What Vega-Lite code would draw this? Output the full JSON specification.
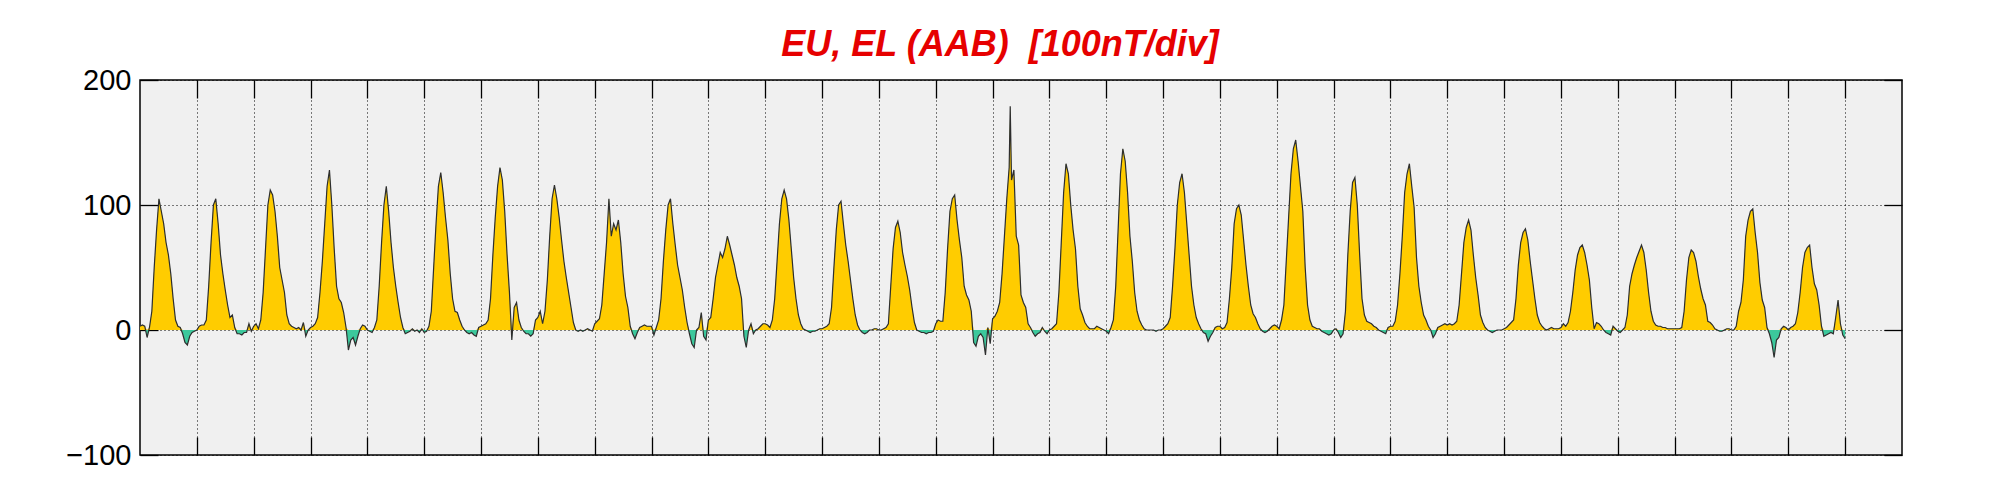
{
"$schema": "https://vega.github.io/schema/vega-lite/v6.json",
"width": 1762, "height": 375,
"autosize": {"type": "none"},
"padding": {"left": 140, "top": 80, "right": 99, "bottom": 45},
"background": "white",
"title": {"text": "EU, EL (AAB) \u00a0[100nT/div]", "color": "#e60000", "font": "Liberation Sans", "fontSize": 36, "fontStyle": "italic", "fontWeight": "bold", "anchor": "middle", "frame": "group", "offset": 2, "dx": -21},
"config": {
  "view": {"fill": "#f0f0f0", "stroke": "#000", "strokeWidth": 1.5},
  "axis": {"domain": false, "gridColor": "#000", "gridOpacity": 1, "gridDash": [1, 3], "gridWidth": 1, "tickColor": "#000", "tickWidth": 1.3, "tickSize": -18, "labelFont": "Liberation Sans", "labelFontSize": 29, "labelColor": "#000", "title": null}
},
"data": {"values": [
{"t":0,"v":3},{"t":1,"v":4},{"t":2,"v":3},{"t":3,"v":-6},{"t":4,"v":2},{"t":5,"v":15},{"t":6,"v":50},{"t":7,"v":80},{"t":8,"v":105},{"t":9,"v":95},{"t":10,"v":85},{"t":11,"v":70},{"t":12,"v":60},{"t":13,"v":45},{"t":14,"v":25},{"t":15,"v":8},{"t":16,"v":3},{"t":17,"v":2},{"t":18,"v":-3},{"t":19,"v":-10},{"t":20,"v":-12},{"t":21,"v":-5},{"t":22,"v":-2},{"t":23,"v":-1},
{"t":24,"v":0},{"t":25,"v":3},{"t":26,"v":4},{"t":27,"v":4},{"t":28,"v":8},{"t":29,"v":35},{"t":30,"v":70},{"t":31,"v":100},{"t":32,"v":105},{"t":33,"v":85},{"t":34,"v":60},{"t":35,"v":45},{"t":36,"v":32},{"t":37,"v":20},{"t":38,"v":10},{"t":39,"v":12},{"t":40,"v":2},{"t":41,"v":-3},{"t":42,"v":-3},{"t":43,"v":-4},{"t":44,"v":-2},{"t":45,"v":-2},{"t":46,"v":5},{"t":47,"v":-1},
{"t":48,"v":3},{"t":49,"v":5},{"t":50,"v":1},{"t":51,"v":8},{"t":52,"v":30},{"t":53,"v":65},{"t":54,"v":100},{"t":55,"v":112},{"t":56,"v":108},{"t":57,"v":95},{"t":58,"v":75},{"t":59,"v":50},{"t":60,"v":40},{"t":61,"v":30},{"t":62,"v":12},{"t":63,"v":5},{"t":64,"v":3},{"t":65,"v":2},{"t":66,"v":1},{"t":67,"v":2},{"t":68,"v":0},{"t":69,"v":6},{"t":70,"v":-5},{"t":71,"v":0},
{"t":72,"v":2},{"t":73,"v":3},{"t":74,"v":5},{"t":75,"v":10},{"t":76,"v":30},{"t":77,"v":55},{"t":78,"v":85},{"t":79,"v":115},{"t":80,"v":128},{"t":81,"v":100},{"t":82,"v":65},{"t":83,"v":35},{"t":84,"v":25},{"t":85,"v":22},{"t":86,"v":14},{"t":87,"v":2},{"t":88,"v":-16},{"t":89,"v":-8},{"t":90,"v":-6},{"t":91,"v":-12},{"t":92,"v":-5},{"t":93,"v":1},{"t":94,"v":4},{"t":95,"v":3},
{"t":96,"v":0},{"t":97,"v":-1},{"t":98,"v":-2},{"t":99,"v":2},{"t":100,"v":8},{"t":101,"v":35},{"t":102,"v":70},{"t":103,"v":100},{"t":104,"v":115},{"t":105,"v":95},{"t":106,"v":70},{"t":107,"v":50},{"t":108,"v":35},{"t":109,"v":22},{"t":110,"v":10},{"t":111,"v":2},{"t":112,"v":-3},{"t":113,"v":-2},{"t":114,"v":-1},{"t":115,"v":1},{"t":116,"v":-1},{"t":117,"v":0},{"t":118,"v":-2},{"t":119,"v":1},
{"t":120,"v":-2},{"t":121,"v":-1},{"t":122,"v":3},{"t":123,"v":15},{"t":124,"v":50},{"t":125,"v":85},{"t":126,"v":115},{"t":127,"v":126},{"t":128,"v":110},{"t":129,"v":90},{"t":130,"v":72},{"t":131,"v":45},{"t":132,"v":25},{"t":133,"v":15},{"t":134,"v":14},{"t":135,"v":8},{"t":136,"v":3},{"t":137,"v":0},{"t":138,"v":-2},{"t":139,"v":-3},{"t":140,"v":-2},{"t":141,"v":-4},{"t":142,"v":-5},{"t":143,"v":2},
{"t":144,"v":3},{"t":145,"v":4},{"t":146,"v":5},{"t":147,"v":8},{"t":148,"v":25},{"t":149,"v":60},{"t":150,"v":90},{"t":151,"v":115},{"t":152,"v":130},{"t":153,"v":120},{"t":154,"v":95},{"t":155,"v":60},{"t":156,"v":30},{"t":157,"v":-8},{"t":158,"v":18},{"t":159,"v":22},{"t":160,"v":8},{"t":161,"v":2},{"t":162,"v":-1},{"t":163,"v":-3},{"t":164,"v":-3},{"t":165,"v":-5},{"t":166,"v":-3},{"t":167,"v":8},
{"t":168,"v":10},{"t":169,"v":15},{"t":170,"v":5},{"t":171,"v":15},{"t":172,"v":40},{"t":173,"v":75},{"t":174,"v":105},{"t":175,"v":116},{"t":176,"v":105},{"t":177,"v":90},{"t":178,"v":72},{"t":179,"v":55},{"t":180,"v":42},{"t":181,"v":30},{"t":182,"v":18},{"t":183,"v":6},{"t":184,"v":0},{"t":185,"v":-1},{"t":186,"v":0},{"t":187,"v":-1},{"t":188,"v":0},{"t":189,"v":1},{"t":190,"v":0},{"t":191,"v":-1},
{"t":192,"v":5},{"t":193,"v":7},{"t":194,"v":9},{"t":195,"v":20},{"t":196,"v":45},{"t":197,"v":70},{"t":198,"v":105},{"t":199,"v":75},{"t":200,"v":85},{"t":201,"v":80},{"t":202,"v":88},{"t":203,"v":70},{"t":204,"v":45},{"t":205,"v":27},{"t":206,"v":18},{"t":207,"v":3},{"t":208,"v":-3},{"t":209,"v":-7},{"t":210,"v":-2},{"t":211,"v":2},{"t":212,"v":3},{"t":213,"v":4},{"t":214,"v":3},{"t":215,"v":3},
{"t":216,"v":3},{"t":217,"v":-4},{"t":218,"v":2},{"t":219,"v":8},{"t":220,"v":25},{"t":221,"v":55},{"t":222,"v":80},{"t":223,"v":100},{"t":224,"v":105},{"t":225,"v":85},{"t":226,"v":68},{"t":227,"v":52},{"t":228,"v":42},{"t":229,"v":32},{"t":230,"v":18},{"t":231,"v":6},{"t":232,"v":-3},{"t":233,"v":-11},{"t":234,"v":-14},{"t":235,"v":0},{"t":236,"v":2},{"t":237,"v":14},{"t":238,"v":-5},{"t":239,"v":-8},
{"t":240,"v":8},{"t":241,"v":10},{"t":242,"v":25},{"t":243,"v":42},{"t":244,"v":52},{"t":245,"v":62},{"t":246,"v":58},{"t":247,"v":65},{"t":248,"v":75},{"t":249,"v":68},{"t":250,"v":60},{"t":251,"v":52},{"t":252,"v":42},{"t":253,"v":35},{"t":254,"v":25},{"t":255,"v":-5},{"t":256,"v":-14},{"t":257,"v":0},{"t":258,"v":5},{"t":259,"v":-3},{"t":260,"v":0},{"t":261,"v":1},{"t":262,"v":3},{"t":263,"v":5},
{"t":264,"v":5},{"t":265,"v":4},{"t":266,"v":2},{"t":267,"v":8},{"t":268,"v":25},{"t":269,"v":55},{"t":270,"v":85},{"t":271,"v":105},{"t":272,"v":112},{"t":273,"v":105},{"t":274,"v":88},{"t":275,"v":65},{"t":276,"v":42},{"t":277,"v":25},{"t":278,"v":12},{"t":279,"v":5},{"t":280,"v":1},{"t":281,"v":0},{"t":282,"v":-1},{"t":283,"v":-2},{"t":284,"v":-1},{"t":285,"v":-1},{"t":286,"v":0},{"t":287,"v":1},
{"t":288,"v":1},{"t":289,"v":2},{"t":290,"v":3},{"t":291,"v":5},{"t":292,"v":18},{"t":293,"v":50},{"t":294,"v":80},{"t":295,"v":100},{"t":296,"v":103},{"t":297,"v":85},{"t":298,"v":68},{"t":299,"v":55},{"t":300,"v":40},{"t":301,"v":25},{"t":302,"v":12},{"t":303,"v":4},{"t":304,"v":0},{"t":305,"v":-2},{"t":306,"v":-3},{"t":307,"v":-2},{"t":308,"v":0},{"t":309,"v":0},{"t":310,"v":1},{"t":311,"v":1},
{"t":312,"v":0},{"t":313,"v":0},{"t":314,"v":1},{"t":315,"v":2},{"t":316,"v":5},{"t":317,"v":35},{"t":318,"v":65},{"t":319,"v":82},{"t":320,"v":87},{"t":321,"v":78},{"t":322,"v":62},{"t":323,"v":52},{"t":324,"v":43},{"t":325,"v":32},{"t":326,"v":18},{"t":327,"v":6},{"t":328,"v":0},{"t":329,"v":-1},{"t":330,"v":-2},{"t":331,"v":-2},{"t":332,"v":-3},{"t":333,"v":-2},{"t":334,"v":-2},{"t":335,"v":-1},
{"t":336,"v":5},{"t":337,"v":8},{"t":338,"v":7},{"t":339,"v":7},{"t":340,"v":30},{"t":341,"v":65},{"t":342,"v":95},{"t":343,"v":105},{"t":344,"v":108},{"t":345,"v":88},{"t":346,"v":72},{"t":347,"v":58},{"t":348,"v":35},{"t":349,"v":28},{"t":350,"v":24},{"t":351,"v":15},{"t":352,"v":-10},{"t":353,"v":-13},{"t":354,"v":-5},{"t":355,"v":-3},{"t":356,"v":-6},{"t":357,"v":-20},{"t":358,"v":2},{"t":359,"v":-11},
{"t":360,"v":9},{"t":361,"v":11},{"t":362,"v":15},{"t":363,"v":22},{"t":364,"v":45},{"t":365,"v":75},{"t":366,"v":105},{"t":367,"v":130},{"t":367.45,"v":179},{"t":368,"v":120},{"t":369,"v":128},{"t":370,"v":75},{"t":371,"v":68},{"t":372,"v":28},{"t":373,"v":22},{"t":374,"v":18},{"t":375,"v":5},{"t":376,"v":2},{"t":377,"v":-2},{"t":378,"v":-5},{"t":379,"v":-3},{"t":380,"v":-2},{"t":381,"v":2},{"t":382,"v":-1},{"t":383,"v":-3},
{"t":384,"v":0},{"t":385,"v":1},{"t":386,"v":3},{"t":387,"v":5},{"t":388,"v":30},{"t":389,"v":70},{"t":390,"v":110},{"t":391,"v":133},{"t":392,"v":125},{"t":393,"v":100},{"t":394,"v":80},{"t":395,"v":65},{"t":396,"v":35},{"t":397,"v":17},{"t":398,"v":12},{"t":399,"v":6},{"t":400,"v":3},{"t":401,"v":1},{"t":402,"v":1},{"t":403,"v":1},{"t":404,"v":3},{"t":405,"v":2},{"t":406,"v":1},{"t":407,"v":0},
{"t":408,"v":-1},{"t":409,"v":-3},{"t":410,"v":2},{"t":411,"v":8},{"t":412,"v":35},{"t":413,"v":80},{"t":414,"v":125},{"t":415,"v":145},{"t":416,"v":135},{"t":417,"v":110},{"t":418,"v":75},{"t":419,"v":55},{"t":420,"v":30},{"t":421,"v":15},{"t":422,"v":8},{"t":423,"v":4},{"t":424,"v":1},{"t":425,"v":0},{"t":426,"v":0},{"t":427,"v":0},{"t":428,"v":0},{"t":429,"v":-1},{"t":430,"v":0},{"t":431,"v":0},
{"t":432,"v":1},{"t":433,"v":3},{"t":434,"v":5},{"t":435,"v":10},{"t":436,"v":35},{"t":437,"v":65},{"t":438,"v":100},{"t":439,"v":118},{"t":440,"v":125},{"t":441,"v":110},{"t":442,"v":85},{"t":443,"v":60},{"t":444,"v":35},{"t":445,"v":20},{"t":446,"v":10},{"t":447,"v":5},{"t":448,"v":1},{"t":449,"v":-2},{"t":450,"v":-3},{"t":451,"v":-9},{"t":452,"v":-5},{"t":453,"v":-2},{"t":454,"v":2},{"t":455,"v":3},
{"t":456,"v":3},{"t":457,"v":1},{"t":458,"v":2},{"t":459,"v":6},{"t":460,"v":25},{"t":461,"v":50},{"t":462,"v":85},{"t":463,"v":97},{"t":464,"v":100},{"t":465,"v":92},{"t":466,"v":72},{"t":467,"v":52},{"t":468,"v":35},{"t":469,"v":20},{"t":470,"v":13},{"t":471,"v":10},{"t":472,"v":5},{"t":473,"v":1},{"t":474,"v":-1},{"t":475,"v":-2},{"t":476,"v":-1},{"t":477,"v":1},{"t":478,"v":3},{"t":479,"v":4},
{"t":480,"v":3},{"t":481,"v":1},{"t":482,"v":8},{"t":483,"v":20},{"t":484,"v":55},{"t":485,"v":90},{"t":486,"v":125},{"t":487,"v":145},{"t":488,"v":152},{"t":489,"v":135},{"t":490,"v":115},{"t":491,"v":95},{"t":492,"v":50},{"t":493,"v":20},{"t":494,"v":8},{"t":495,"v":3},{"t":496,"v":2},{"t":497,"v":1},{"t":498,"v":1},{"t":499,"v":-1},{"t":500,"v":-2},{"t":501,"v":-3},{"t":502,"v":-4},{"t":503,"v":-3},
{"t":504,"v":0},{"t":505,"v":1},{"t":506,"v":-2},{"t":507,"v":-6},{"t":508,"v":-3},{"t":509,"v":15},{"t":510,"v":60},{"t":511,"v":95},{"t":512,"v":118},{"t":513,"v":122},{"t":514,"v":100},{"t":515,"v":60},{"t":516,"v":25},{"t":517,"v":12},{"t":518,"v":7},{"t":519,"v":6},{"t":520,"v":5},{"t":521,"v":3},{"t":522,"v":2},{"t":523,"v":0},{"t":524,"v":-1},{"t":525,"v":-2},{"t":526,"v":-3},{"t":527,"v":2},
{"t":528,"v":3},{"t":529,"v":3},{"t":530,"v":7},{"t":531,"v":20},{"t":532,"v":45},{"t":533,"v":75},{"t":534,"v":110},{"t":535,"v":125},{"t":536,"v":133},{"t":537,"v":115},{"t":538,"v":98},{"t":539,"v":58},{"t":540,"v":35},{"t":541,"v":22},{"t":542,"v":12},{"t":543,"v":8},{"t":544,"v":3},{"t":545,"v":0},{"t":546,"v":-6},{"t":547,"v":-3},{"t":548,"v":2},{"t":549,"v":3},{"t":550,"v":4},{"t":551,"v":5},
{"t":552,"v":4},{"t":553,"v":5},{"t":554,"v":4},{"t":555,"v":5},{"t":556,"v":7},{"t":557,"v":20},{"t":558,"v":45},{"t":559,"v":70},{"t":560,"v":82},{"t":561,"v":88},{"t":562,"v":80},{"t":563,"v":60},{"t":564,"v":42},{"t":565,"v":28},{"t":566,"v":12},{"t":567,"v":6},{"t":568,"v":2},{"t":569,"v":0},{"t":570,"v":-1},{"t":571,"v":-2},{"t":572,"v":-1},{"t":573,"v":0},{"t":574,"v":0},{"t":575,"v":0},
{"t":576,"v":1},{"t":577,"v":2},{"t":578,"v":4},{"t":579,"v":6},{"t":580,"v":8},{"t":581,"v":25},{"t":582,"v":52},{"t":583,"v":70},{"t":584,"v":78},{"t":585,"v":81},{"t":586,"v":72},{"t":587,"v":55},{"t":588,"v":40},{"t":589,"v":25},{"t":590,"v":12},{"t":591,"v":6},{"t":592,"v":3},{"t":593,"v":1},{"t":594,"v":0},{"t":595,"v":1},{"t":596,"v":2},{"t":597,"v":1},{"t":598,"v":1},{"t":599,"v":1},
{"t":600,"v":2},{"t":601,"v":5},{"t":602,"v":3},{"t":603,"v":6},{"t":604,"v":15},{"t":605,"v":30},{"t":606,"v":48},{"t":607,"v":60},{"t":608,"v":66},{"t":609,"v":68},{"t":610,"v":62},{"t":611,"v":52},{"t":612,"v":40},{"t":613,"v":18},{"t":614,"v":1},{"t":615,"v":6},{"t":616,"v":5},{"t":617,"v":3},{"t":618,"v":0},{"t":619,"v":-2},{"t":620,"v":-3},{"t":621,"v":-4},{"t":622,"v":3},{"t":623,"v":1},
{"t":624,"v":-1},{"t":625,"v":-2},{"t":626,"v":0},{"t":627,"v":2},{"t":628,"v":12},{"t":629,"v":35},{"t":630,"v":45},{"t":631,"v":52},{"t":632,"v":58},{"t":633,"v":63},{"t":634,"v":68},{"t":635,"v":62},{"t":636,"v":48},{"t":637,"v":30},{"t":638,"v":15},{"t":639,"v":7},{"t":640,"v":4},{"t":641,"v":3},{"t":642,"v":3},{"t":643,"v":2},{"t":644,"v":2},{"t":645,"v":1},{"t":646,"v":1},{"t":647,"v":1},
{"t":648,"v":1},{"t":649,"v":1},{"t":650,"v":1},{"t":651,"v":2},{"t":652,"v":15},{"t":653,"v":40},{"t":654,"v":58},{"t":655,"v":64},{"t":656,"v":62},{"t":657,"v":55},{"t":658,"v":43},{"t":659,"v":33},{"t":660,"v":25},{"t":661,"v":20},{"t":662,"v":7},{"t":663,"v":6},{"t":664,"v":4},{"t":665,"v":1},{"t":666,"v":0},{"t":667,"v":-1},{"t":668,"v":-1},{"t":669,"v":0},{"t":670,"v":1},{"t":671,"v":1},
{"t":672,"v":0},{"t":673,"v":0},{"t":674,"v":3},{"t":675,"v":15},{"t":676,"v":22},{"t":677,"v":40},{"t":678,"v":75},{"t":679,"v":88},{"t":680,"v":95},{"t":681,"v":97},{"t":682,"v":78},{"t":683,"v":62},{"t":684,"v":38},{"t":685,"v":24},{"t":686,"v":18},{"t":687,"v":2},{"t":688,"v":-3},{"t":689,"v":-10},{"t":690,"v":-22},{"t":691,"v":-8},{"t":692,"v":-6},{"t":693,"v":1},{"t":694,"v":3},{"t":695,"v":2},
{"t":696,"v":0},{"t":697,"v":2},{"t":698,"v":3},{"t":699,"v":5},{"t":700,"v":14},{"t":701,"v":30},{"t":702,"v":50},{"t":703,"v":62},{"t":704,"v":66},{"t":705,"v":68},{"t":706,"v":50},{"t":707,"v":37},{"t":708,"v":32},{"t":709,"v":20},{"t":710,"v":3},{"t":711,"v":-5},{"t":712,"v":-4},{"t":713,"v":-3},{"t":714,"v":-2},{"t":715,"v":-3},{"t":716,"v":10},{"t":717,"v":24},{"t":718,"v":5},{"t":719,"v":-4},
{"t":720,"v":-7}
]},
"resolve": {"scale": {"y": "independent"}, "axis": {"x": "independent", "y": "independent"}},
"layer": [
  {"mark": {"type": "area", "color": "#3cc89c", "opacity": 1},
   "encoding": {
     "x": {"field": "t", "type": "quantitative", "scale": {"domain": [0, 744], "nice": false, "zero": false},
           "axis": {"orient": "top", "values": [24,48,72,96,120,144,168,192,216,240,264,288,312,336,360,384,408,432,456,480,504,528,552,576,600,624,648,672,696,720], "labels": false, "grid": false}},
     "y": {"field": "v", "type": "quantitative", "scale": {"domain": [-100, 200], "nice": false, "zero": false},
           "axis": {"orient": "right", "values": [-100, 0, 100, 200], "labels": false, "grid": false}},
     "y2": {"datum": 0}}},
  {"mark": {"type": "area", "color": "#ffcc00", "opacity": 1},
   "encoding": {
     "x": {"field": "t", "type": "quantitative", "axis": null},
     "y": {"field": "v", "type": "quantitative", "scale": {"domain": [0, 200], "range": [250, 0], "clamp": true, "nice": false, "zero": false}, "axis": null},
     "y2": {"datum": 0}}},
  {"mark": {"type": "line", "color": "#2e2e2e", "strokeWidth": 1.2},
   "encoding": {
     "x": {"field": "t", "type": "quantitative",
           "axis": {"orient": "bottom", "values": [24,48,72,96,120,144,168,192,216,240,264,288,312,336,360,384,408,432,456,480,504,528,552,576,600,624,648,672,696,720], "labels": false, "grid": true}},
     "y": {"field": "v", "type": "quantitative", "scale": {"domain": [-100, 200], "nice": false, "zero": false},
           "axis": {"orient": "left", "values": [-100, 0, 100, 200], "grid": true, "labelPadding": 27}}}}
]
}
